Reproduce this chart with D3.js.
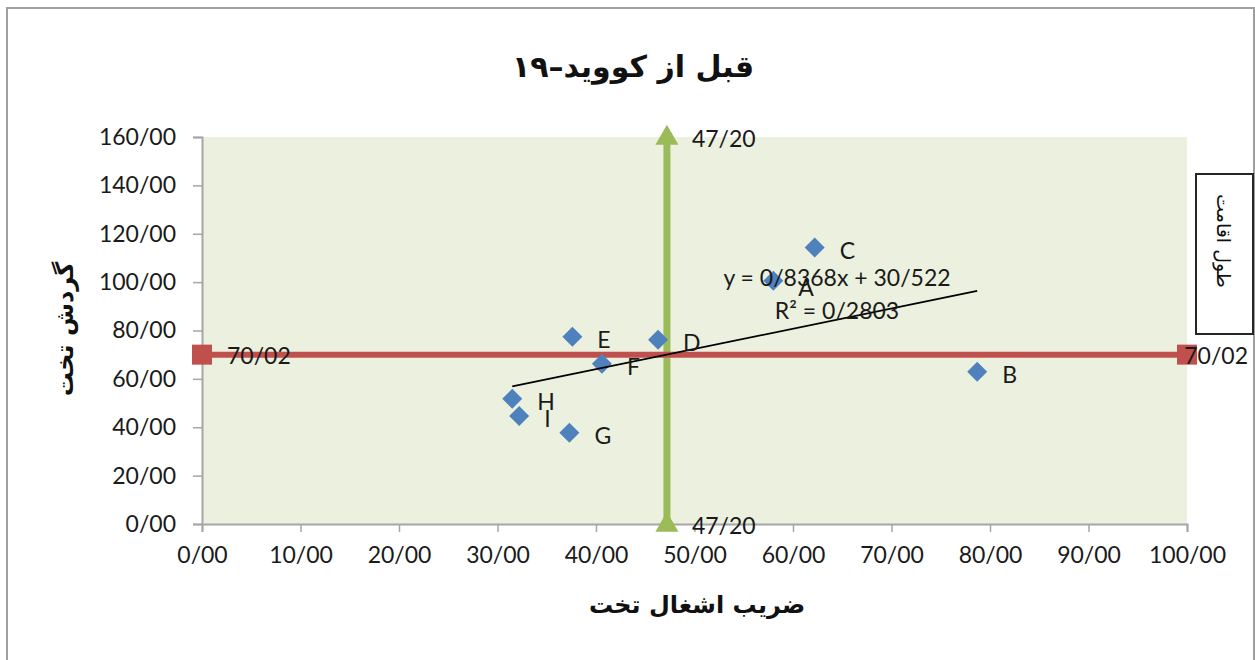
<!DOCTYPE html>
<html>
<head>
<meta charset="utf-8">
<script src="https://cdn.jsdelivr.net/npm/d3@7"></script>
<style>
  body { margin: 0; background: #fff; }
  svg { display: block; }
</style>
</head>
<body>
<div id="chart"></div>
<script>
// hospital units: bed occupancy (x) vs bed turnover (y)
const unitNames = ["A", "B", "C", "D", "E", "F", "G", "H", "I"];
const occupancy = [58.0, 78.7, 62.2, 46.3, 37.6, 40.6, 37.3, 31.5, 32.2];
const turnover = [100.6, 62.9, 114.3, 76.2, 77.4, 66.3, 37.7, 51.8, 44.7];

const meanOccupancy = 47.2;
const meanTurnover = 70.02;

const trendSlope = 0.8368;
const trendIntercept = 30.522;
const rSquared = 0.2803;

const xTickValues = [0, 10, 20, 30, 40, 50, 60, 70, 80, 90, 100];
const yTickValues = [0, 20, 40, 60, 80, 100, 120, 140, 160];

const titleText = "قبل از کووید–۱۹";
const xTitle = "ضریب اشغال تخت";
const yTitle = "گردش تخت";
const sideText = "طول اقامت";

const latin = "Lato, 'Open Sans', sans-serif";
const arabic = "'DejaVu Sans', sans-serif";
const fmt = (v, n) => d3.format("." + n + "f")(v).replace(".", "/");

const width = 1255, height = 660;
const plot = { left: 202, right: 1187, top: 137, bottom: 524 };

const svg = d3.select("#chart").append("svg")
  .attr("width", width)
  .attr("height", height);

// outer chart border
svg.append("rect")
  .attr("x", 7).attr("y", 8)
  .attr("width", 1247).attr("height", 680)
  .attr("fill", "#fff")
  .attr("stroke", "#a0a0a0")
  .attr("stroke-width", 2);

const x = d3.scaleLinear().domain([0, 100]).range([plot.left, plot.right]);
const y = d3.scaleLinear().domain([0, 160]).range([plot.bottom, plot.top]);

svg.append("rect")
  .attr("x", plot.left).attr("y", plot.top)
  .attr("width", plot.right - plot.left)
  .attr("height", plot.bottom - plot.top)
  .attr("fill", "#ebf1de");

// axes
svg.append("g")
  .attr("transform", `translate(${plot.left},0)`)
  .call(d3.axisLeft(y).tickValues(yTickValues).tickSize(9).tickPadding(17)
    .tickFormat((d) => fmt(d, 2)));

svg.append("g")
  .attr("transform", `translate(0,${plot.bottom})`)
  .call(d3.axisBottom(x).tickValues(xTickValues).tickSize(8).tickPadding(15)
    .tickFormat((d) => fmt(d, 2)));

svg.selectAll(".domain").attr("stroke", "#a6a6a6").attr("stroke-width", 2);
svg.selectAll(".tick line").attr("stroke", "#a6a6a6").attr("stroke-width", 1.5);
svg.selectAll(".tick text")
  .attr("fill", "#1a1a1a")
  .style("font-family", latin)
  .style("font-size", "23px");

// mean occupancy (green, vertical)
svg.append("line")
  .attr("x1", x(meanOccupancy)).attr("x2", x(meanOccupancy))
  .attr("y1", y(0)).attr("y2", y(160))
  .attr("stroke", "#9bbb59")
  .attr("stroke-width", 7);

const tri = d3.symbol(d3.symbolTriangle, 230);
[0, 160].forEach((v) => {
  svg.append("path")
    .attr("d", tri())
    .attr("transform", `translate(${x(meanOccupancy)},${y(v) + 1})`)
    .attr("fill", "#9bbb59");
  svg.append("text")
    .attr("x", x(meanOccupancy) + 25)
    .attr("y", y(v) + 1)
    .attr("dominant-baseline", "central")
    .style("font-family", latin)
    .style("font-size", "23px")
    .attr("fill", "#1a1a1a")
    .text(fmt(meanOccupancy, 2));
});

// mean turnover (red, horizontal)
svg.append("line")
  .attr("x1", x(0)).attr("x2", x(100))
  .attr("y1", y(meanTurnover)).attr("y2", y(meanTurnover))
  .attr("stroke", "#c0504d")
  .attr("stroke-width", 6);

[0, 100].forEach((v) => {
  svg.append("rect")
    .attr("x", x(v) - 10).attr("y", y(meanTurnover) - 10)
    .attr("width", 20).attr("height", 20)
    .attr("fill", "#c0504d");
});

svg.append("text")
  .attr("x", x(0) + 25)
  .attr("y", y(meanTurnover))
  .attr("dominant-baseline", "central")
  .style("font-family", latin)
  .style("font-size", "23px")
  .attr("fill", "#1a1a1a")
  .text(fmt(meanTurnover, 2));

svg.append("text")
  .attr("x", 1248)
  .attr("y", y(meanTurnover))
  .attr("text-anchor", "end")
  .attr("dominant-baseline", "central")
  .style("font-family", latin)
  .style("font-size", "23px")
  .attr("fill", "#1a1a1a")
  .text(fmt(meanTurnover, 2));

// points
const pts = unitNames.map((n, i) => ({ name: n, x: occupancy[i], y: turnover[i] }));
const diamond = d3.symbol(d3.symbolSquare, 200);

svg.append("g")
  .selectAll("path")
  .data(pts)
  .join("path")
  .attr("d", diamond())
  .attr("transform", (d) => `translate(${x(d.x)},${y(d.y)}) rotate(45)`)
  .attr("fill", "#4f81bd");

// linear trendline over the data range
const xMin = d3.min(occupancy), xMax = d3.max(occupancy);
svg.append("line")
  .attr("x1", x(xMin)).attr("y1", y(trendSlope * xMin + trendIntercept))
  .attr("x2", x(xMax)).attr("y2", y(trendSlope * xMax + trendIntercept))
  .attr("stroke", "#000")
  .attr("stroke-width", 1.8);

svg.append("g")
  .selectAll("text")
  .data(pts)
  .join("text")
  .attr("x", (d) => x(d.x) + 25)
  .attr("y", (d) => y(d.y) + (d.name === "A" ? 6 : 2))
  .attr("dominant-baseline", "central")
  .style("font-family", latin)
  .style("font-size", "23px")
  .attr("fill", "#1a1a1a")
  .text((d) => d.name);

// trendline equation
const eq = svg.append("text")
  .attr("text-anchor", "middle")
  .style("font-family", latin)
  .style("font-size", "23px")
  .attr("fill", "#1a1a1a");
eq.append("tspan").attr("x", 837).attr("y", 277).attr("dominant-baseline", "central")
  .text(`y = ${fmt(trendSlope, 4)}x + ${fmt(trendIntercept, 3)}`);
eq.append("tspan").attr("x", 837).attr("y", 310).attr("dominant-baseline", "central")
  .text(`R² = ${fmt(rSquared, 4)}`);

// titles
svg.append("text")
  .attr("x", 633).attr("y", 66)
  .attr("text-anchor", "middle")
  .attr("dominant-baseline", "central")
  .attr("direction", "rtl")
  .style("font-family", arabic)
  .style("font-size", "30px")
  .style("font-weight", "bold")
  .attr("fill", "#111")
  .text(titleText);

svg.append("text")
  .attr("x", 697).attr("y", 605)
  .attr("text-anchor", "middle")
  .attr("dominant-baseline", "central")
  .attr("direction", "rtl")
  .style("font-family", arabic)
  .style("font-size", "24px")
  .style("font-weight", "bold")
  .attr("fill", "#111")
  .text(xTitle);

svg.append("text")
  .attr("transform", "translate(65,329) rotate(-90)")
  .attr("text-anchor", "middle")
  .attr("dominant-baseline", "central")
  .attr("direction", "rtl")
  .style("font-family", arabic)
  .style("font-size", "24px")
  .style("font-weight", "bold")
  .attr("fill", "#111")
  .text(yTitle);

// side box
svg.append("rect")
  .attr("x", 1196).attr("y", 174)
  .attr("width", 57).attr("height", 160)
  .attr("fill", "#fff")
  .attr("stroke", "#262626")
  .attr("stroke-width", 2);

svg.append("text")
  .attr("transform", "translate(1224,241) rotate(90)")
  .attr("text-anchor", "middle")
  .attr("dominant-baseline", "central")
  .attr("direction", "rtl")
  .style("font-family", arabic)
  .style("font-size", "19px")
  .attr("fill", "#111")
  .text(sideText);
</script>
</body>
</html>
